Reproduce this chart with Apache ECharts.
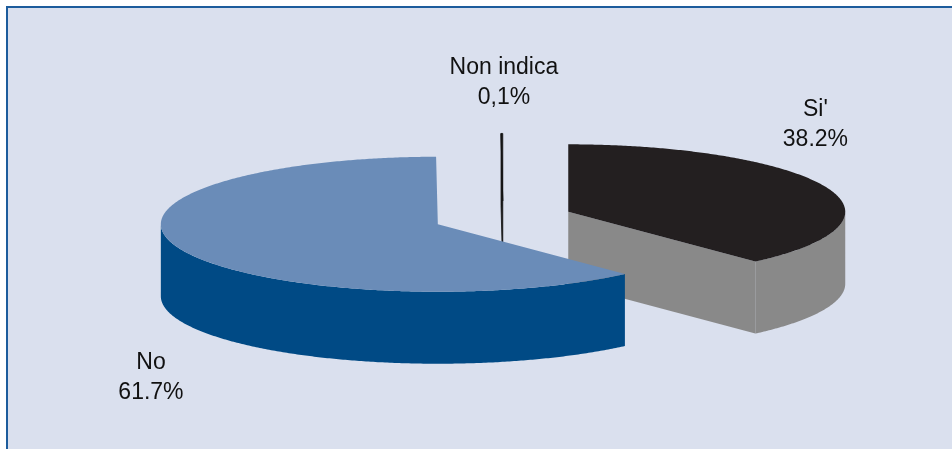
<!DOCTYPE html>
<html>
<head>
<meta charset="utf-8">
<script src="https://cdn.jsdelivr.net/npm/echarts@6/dist/echarts.min.js"></script>
<style>
  html, body { margin: 0; padding: 0; background: #ffffff; }
  #chart { width: 952px; height: 449px; }
</style>
</head>
<body>
<div id="chart"></div>
<script>
// Answer shares (percent)
const categories = ["Si'", 'No', 'Non indica'];
const values = [38.2, 61.7, 0.1];
const decimalSeparators = ['.', '.', ','];

// Slice colours: top face and side walls
const topColors = ['#231f20', '#6a8cb8', '#111111'];
const sideColors = ['#898989', '#004a85', '#111111'];

// Geometry of the tilted, exploded pie
const PIE = { cx: 503, cy: 218, rx: 277, ry: 67.5, depth: 72, explode: 70, startDeg: 90 };
// Label placement relative to the outer top edge at each slice's mid angle
const LABEL_SHIFT = [[-11, -63], [-29, 129], [2, -51]];

const total = values.reduce((a, b) => a + b, 0);
const DEG = Math.PI / 180;

function sliceAngles(i) {
  let acc = 0;
  for (let k = 0; k < i; k++) acc += values[k];
  const a0 = PIE.startDeg - acc / total * 360;
  const a1 = a0 - values[i] / total * 360;
  return [a0, a1]; // a0 > a1, slices run clockwise
}

function formatPct(i) {
  return values[i].toFixed(1).replace('.', decimalSeparators[i]) + '%';
}

function renderItem(params, api) {
  const i = params.dataIndex;
  const [a0, a1] = sliceAngles(i);
  const mid = (a0 + a1) / 2 * DEG;
  const ox = PIE.explode * Math.cos(mid);
  const oy = -PIE.explode * (PIE.ry / PIE.rx) * Math.sin(mid);
  const cx = PIE.cx + ox, cy = PIE.cy + oy;
  const pt = (deg, dz) => [cx + PIE.rx * Math.cos(deg * DEG), cy - PIE.ry * Math.sin(deg * DEG) + dz];
  const arc = (from, to, dz) => {
    const n = Math.max(2, Math.ceil(Math.abs(from - to) * 2));
    const out = [];
    for (let s = 0; s <= n; s++) out.push(pt(from + (to - from) * s / n, dz));
    return out;
  };
  // A very thin slice is outlined so that it shows as a dark stroke
  const thin = values[i] / total < 0.01;
  const stroke = thin ? { stroke: '#111111', lineWidth: 0.8, lineJoin: 'round' } : {};
  const children = [];
  const frontRank = Math.round(oy) + 200;

  // Radial cut faces that turn toward the viewer
  const radial = (deg) => {
    const e = pt(deg, 0);
    return [[cx, cy], e, [e[0], e[1] + PIE.depth], [cx, cy + PIE.depth]];
  };
  if (Math.cos(a0 * DEG) < -1e-9) {
    children.push({ type: 'polygon', z2: frontRank, shape: { points: radial(a0) },
      style: Object.assign({ fill: sideColors[i] }, stroke) });
  }
  if (Math.cos(a1 * DEG) > 1e-9) {
    children.push({ type: 'polygon', z2: frontRank, shape: { points: radial(a1) },
      style: Object.assign({ fill: sideColors[i] }, stroke) });
  }

  // Outer wall, only over the front half of the ellipse
  for (let k = -2; k <= 1; k++) {
    const lo = Math.max(a1, -180 + 360 * k);
    const hi = Math.min(a0, 360 * k);
    if (hi - lo > 1e-6) {
      const topArc = arc(hi, lo, 0);
      const botArc = arc(lo, hi, PIE.depth);
      children.push({ type: 'polygon', z2: frontRank + 1, shape: { points: topArc.concat(botArc) },
        style: Object.assign({ fill: sideColors[i] }, stroke) });
    }
  }

  // Top face
  children.push({ type: 'polygon', z2: 1000, shape: { points: [[cx, cy]].concat(arc(a0, a1, 0)) },
    style: Object.assign({ fill: topColors[i] }, stroke) });

  // Data label
  const anchor = pt((a0 + a1) / 2, 0);
  children.push({
    type: 'text', z2: 1100,
    style: {
      x: anchor[0] + LABEL_SHIFT[i][0],
      y: anchor[1] + LABEL_SHIFT[i][1],
      text: categories[i] + '\n' + formatPct(i),
      fill: '#111111',
      font: '23px "Liberation Sans", Arial, sans-serif',
      align: 'center', verticalAlign: 'middle', lineHeight: 30
    }
  });

  return { type: 'group', children };
}

const chart = echarts.init(document.getElementById('chart'), null, { renderer: 'canvas' });
chart.setOption({
  animation: false,
  backgroundColor: '#ffffff',
  graphic: [{
    type: 'rect', z: -10, silent: true,
    shape: { x: 7, y: 7, width: 960, height: 460 },
    style: { fill: '#dae0ee', stroke: '#1d5c9c', lineWidth: 2 }
  }],
  series: [{
    type: 'custom',
    coordinateSystem: 'none',
    renderItem: renderItem,
    data: values.map((v, i) => ({ name: categories[i], value: v }))
  }]
});
</script>
</body>
</html>
